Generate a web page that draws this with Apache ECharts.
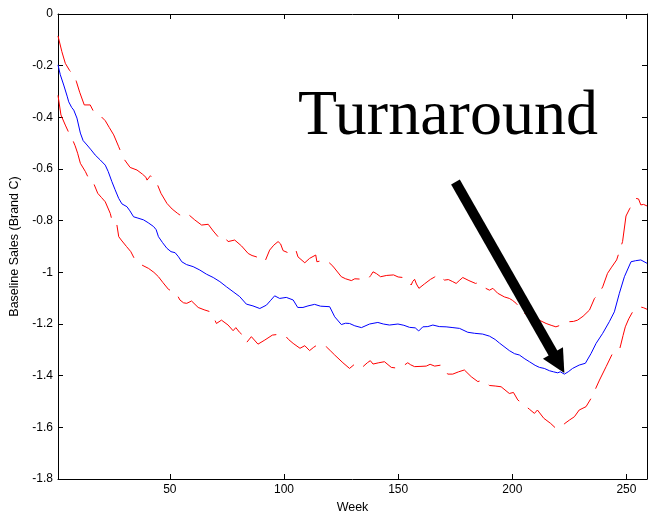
<!DOCTYPE html>
<html>
<head>
<meta charset="utf-8">
<script src="https://cdn.jsdelivr.net/npm/echarts@6/dist/echarts.min.js"></script>
<style>html,body{margin:0;padding:0;background:#fff;}#c{width:648px;height:513px;}</style>
</head>
<body>
<div id="c"></div>
<script>
var xTicks = [50, 100, 150, 200, 250];
var yTickStep = 0.2;

var blueWeeks = [1,2,3.5,5,5.7,7,7.9,9.3,10.8,12,13.7,15.5,17.3,19.5,21.7,23,24.6,26,27.6,29,31.2,32.5,34.1,36,38.5,40.5,42.9,44,45,46.8,48.7,50.5,52.3,53.8,55.2,57.3,60.2,63.1,66,69,71.9,74.8,77.7,80.6,83.5,86.4,89.4,92.3,94,95.9,98.1,101,104,106,108.3,110.5,113.4,116,120,122.2,125.1,127,128.7,131,133.9,137.5,141.1,143.5,146.2,149.9,152.5,155,157.5,159,160.8,163,165.2,168,171,174,176.9,180.5,183.5,187,190,192.5,194.4,198.7,201,203.1,205.5,207.5,210,211.9,214,216.3,218,219.9,221,222.8,224.5,226.4,229.3,232,234.5,236.7,239.6,242.5,244.7,246.9,249.1,252,254,256.3,259];
var blueValues = [-0.197,-0.235,-0.275,-0.318,-0.34,-0.362,-0.372,-0.403,-0.461,-0.49,-0.507,-0.526,-0.546,-0.565,-0.585,-0.61,-0.649,-0.68,-0.714,-0.735,-0.746,-0.762,-0.785,-0.79,-0.797,-0.808,-0.823,-0.835,-0.862,-0.885,-0.907,-0.92,-0.924,-0.94,-0.959,-0.97,-0.978,-0.991,-1.007,-1.02,-1.036,-1.056,-1.075,-1.094,-1.123,-1.13,-1.14,-1.127,-1.11,-1.091,-1.101,-1.097,-1.107,-1.136,-1.136,-1.13,-1.124,-1.131,-1.133,-1.172,-1.202,-1.197,-1.198,-1.207,-1.214,-1.2,-1.194,-1.2,-1.204,-1.2,-1.205,-1.213,-1.215,-1.227,-1.211,-1.21,-1.204,-1.21,-1.211,-1.214,-1.217,-1.232,-1.236,-1.239,-1.247,-1.26,-1.274,-1.303,-1.315,-1.32,-1.335,-1.346,-1.36,-1.368,-1.372,-1.381,-1.385,-1.389,-1.385,-1.394,-1.385,-1.372,-1.359,-1.352,-1.314,-1.275,-1.236,-1.191,-1.153,-1.081,-1.017,-0.959,-0.955,-0.952,-0.965];

var upperWeeks = [1,2.7,4.2,6.1,8.1,9,10.5,12.5,15.1,16.6,18.8,20,21.7,23.5,25.4,27.6,29.7,32.6,35.6,38,39.5,40,41.5,44.3,46.1,48.7,51,53.4,54.4,56.7,58,60.9,63.9,66.8,69,71.1,73.3,75.5,78.4,81.4,84.3,86,87.9,90,91.6,93.7,95.5,97.4,98.5,99.6,102,105.1,106.1,109.1,111.2,113.9,114.4,116.5,118.5,121.4,125.1,127,129.5,131,133.1,135,136.7,138,139,140.5,142.3,145,148,150,152.1,154,155.7,156.4,157.2,158,159.1,161.5,164.2,166,167.4,169,170.3,172,173.9,175.4,177,178.3,181,183.9,185,187,190,191.5,193.6,194.4,196.5,198.7,200,201.7,203.5,205.3,207.5,210,212.5,214.8,217,219.1,221,222.8,225,226.8,228.6,231,233.8,236,237.8,239.6,241.7,243.5,245.7,248.3,249.8,251.5,253,254.2,255.3,256.3,257.5,259];
var upperValues = [-0.085,-0.146,-0.191,-0.219,-0.236,-0.26,-0.303,-0.352,-0.352,-0.378,-0.387,-0.398,-0.413,-0.44,-0.468,-0.514,-0.559,-0.594,-0.604,-0.62,-0.632,-0.643,-0.626,-0.655,-0.694,-0.733,-0.755,-0.772,-0.778,-0.785,-0.775,-0.797,-0.817,-0.814,-0.84,-0.862,-0.856,-0.881,-0.875,-0.898,-0.927,-0.935,-0.94,-0.952,-0.959,-0.914,-0.895,-0.881,-0.89,-0.916,-0.925,-0.911,-0.94,-0.963,-0.946,-0.933,-0.959,-0.955,-0.952,-0.976,-1.017,-1.025,-1.032,-1.025,-1.026,-1.03,-1.027,-1.012,-0.998,-1.005,-1.017,-1.012,-1.01,-1.018,-1.02,-1.028,-1.049,-1.035,-1.027,-1.045,-1.062,-1.045,-1.027,-1.018,-1.008,-1.022,-1.03,-1.028,-1.036,-1.043,-1.03,-1.02,-1.032,-1.043,-1.04,-1.056,-1.069,-1.062,-1.081,-1.088,-1.095,-1.101,-1.108,-1.12,-1.14,-1.159,-1.165,-1.175,-1.188,-1.198,-1.205,-1.211,-1.205,-1.2,-1.191,-1.19,-1.185,-1.17,-1.146,-1.101,-1.085,-1.056,-1.004,-0.98,-0.952,-0.881,-0.782,-0.752,-0.733,-0.714,-0.716,-0.739,-0.737,-0.743];

var lowerWeeks = [1,2.3,4.2,5.5,7.1,8.5,9.6,10.8,13,15.1,16.6,18.4,20,21.7,23.9,24.6,26.5,27.6,28.7,31,32.9,34.4,37.8,40.7,43,45,47,49.4,52.8,54.4,56,57.4,59.5,62.4,65,67.5,68.9,70.4,72.6,75.5,77.7,78.9,80.5,82.4,83.5,85.7,88.6,91.6,94.9,97.5,100.3,102,104,107,109.1,111.2,113,115.3,118.5,120.5,122.2,125.8,128.7,131.7,134.6,136.5,137.8,139,141.5,144,147,150.6,154.2,155.5,157.2,160,162.3,164,166,168.8,170.5,171.7,173.9,176.5,179,182,184.9,187,190,192.5,195.1,198.7,200.5,202.4,205.3,207.5,209.7,211,213.8,216.8,219.1,220,221.3,223,225,227.2,229.3,232.3,234.9,236.5,238.2,241.1,243.9,246.9,247.5,248.5,249.5,251,252.7,255.6,257.5,259];
var lowerValues = [-0.315,-0.391,-0.43,-0.455,-0.481,-0.51,-0.539,-0.578,-0.61,-0.649,-0.655,-0.694,-0.71,-0.727,-0.772,-0.797,-0.8,-0.862,-0.875,-0.9,-0.92,-0.946,-0.972,-0.985,-1.0,-1.017,-1.04,-1.066,-1.081,-1.107,-1.118,-1.12,-1.111,-1.136,-1.145,-1.152,-1.169,-1.198,-1.185,-1.204,-1.226,-1.214,-1.232,-1.247,-1.273,-1.249,-1.278,-1.262,-1.243,-1.24,-1.243,-1.26,-1.275,-1.294,-1.284,-1.303,-1.29,-1.277,-1.288,-1.305,-1.32,-1.35,-1.372,-1.35,-1.365,-1.35,-1.342,-1.355,-1.35,-1.346,-1.368,-1.372,-1.35,-1.358,-1.365,-1.364,-1.363,-1.356,-1.363,-1.359,-1.375,-1.394,-1.394,-1.385,-1.378,-1.404,-1.423,-1.417,-1.438,-1.44,-1.443,-1.469,-1.465,-1.494,-1.514,-1.53,-1.546,-1.533,-1.565,-1.585,-1.604,-1.606,-1.598,-1.585,-1.572,-1.559,-1.533,-1.52,-1.482,-1.45,-1.417,-1.365,-1.314,-1.301,-1.281,-1.245,-1.211,-1.18,-1.153,-1.133,-1.137,-1.143];

var arrowStart = [175.1, -0.650];
var arrowEnd = [220.3, -1.351];
var annotationText = 'Turnaround';

function pairs(xs, ys) { return xs.map(function (x, i) { return [x, ys[i]]; }); }

var font = '"Liberation Sans", Arial, Helvetica, sans-serif';
var chart = echarts.init(document.getElementById('c'), null, { renderer: 'canvas' });

var xCommon = {
  type: 'value', min: 1, max: 259,
  axisLine: { show: true, onZero: false, lineStyle: { color: '#000', width: 1 } },
  axisTick: { show: true, inside: true, length: 5, customValues: xTicks, lineStyle: { color: '#000' } },
  splitLine: { show: false }
};
var yCommon = {
  type: 'value', min: -1.8, max: 0, interval: yTickStep,
  axisLine: { show: true, onZero: false, lineStyle: { color: '#000', width: 1 } },
  axisTick: { show: true, inside: true, length: 5, lineStyle: { color: '#000' } },
  splitLine: { show: false }
};

chart.setOption({
  animation: false,
  backgroundColor: '#fff',
  grid: { left: 58, right: 1, top: 14, bottom: 34, containLabel: false, outerBoundsMode: 'none' },
  xAxis: [
    Object.assign({}, xCommon, {
      position: 'bottom',
      name: 'Week', nameLocation: 'middle', nameGap: 22,
      nameTextStyle: { fontFamily: font, fontSize: 12.5, color: '#000' },
      axisLabel: { show: true, customValues: xTicks, margin: 5, fontFamily: font, fontSize: 12, color: '#000' }
    }),
    Object.assign({}, xCommon, { position: 'top', axisLabel: { show: false } })
  ],
  yAxis: [
    Object.assign({}, yCommon, {
      position: 'left',
      name: 'Baseline Sales (Brand C)', nameLocation: 'middle', nameGap: 31,
      nameTextStyle: { fontFamily: font, fontSize: 12.5, color: '#000' },
      axisLabel: { show: true, margin: 5, fontFamily: font, fontSize: 12, color: '#000',
        formatter: function (v) { return String(Math.round(v * 10) / 10); } }
    }),
    Object.assign({}, yCommon, { position: 'right', axisLabel: { show: false } })
  ],
  series: [
    { type: 'line', name: 'upper', data: pairs(upperWeeks, upperValues), showSymbol: false, symbol: 'none',
      lineStyle: { color: '#ff0000', width: 1, type: [38, 11] }, silent: true },
    { type: 'line', name: 'lower', data: pairs(lowerWeeks, lowerValues), showSymbol: false, symbol: 'none',
      lineStyle: { color: '#ff0000', width: 1, type: [38, 11] }, silent: true },
    { type: 'line', name: 'baseline', data: pairs(blueWeeks, blueValues), showSymbol: false, symbol: 'none',
      lineStyle: { color: '#0000ff', width: 1 }, silent: true, z: 3,
      markLine: {
        silent: true, animation: false,
        symbol: ['none', 'triangle'], symbolSize: [23, 23],
        label: { show: false },
        lineStyle: { color: '#000', width: 10, type: 'solid' },
        itemStyle: { color: '#000' },
        emphasis: { disabled: true },
        data: [[{ coord: arrowStart }, { coord: arrowEnd }]]
      }
    }
  ],
  graphic: [
    { type: 'text', left: 298, top: 85, z: 10,
      style: { text: annotationText, font: '64px "Liberation Serif", "DejaVu Serif", serif', fill: '#000' } }
  ]
});
</script>
</body>
</html>
